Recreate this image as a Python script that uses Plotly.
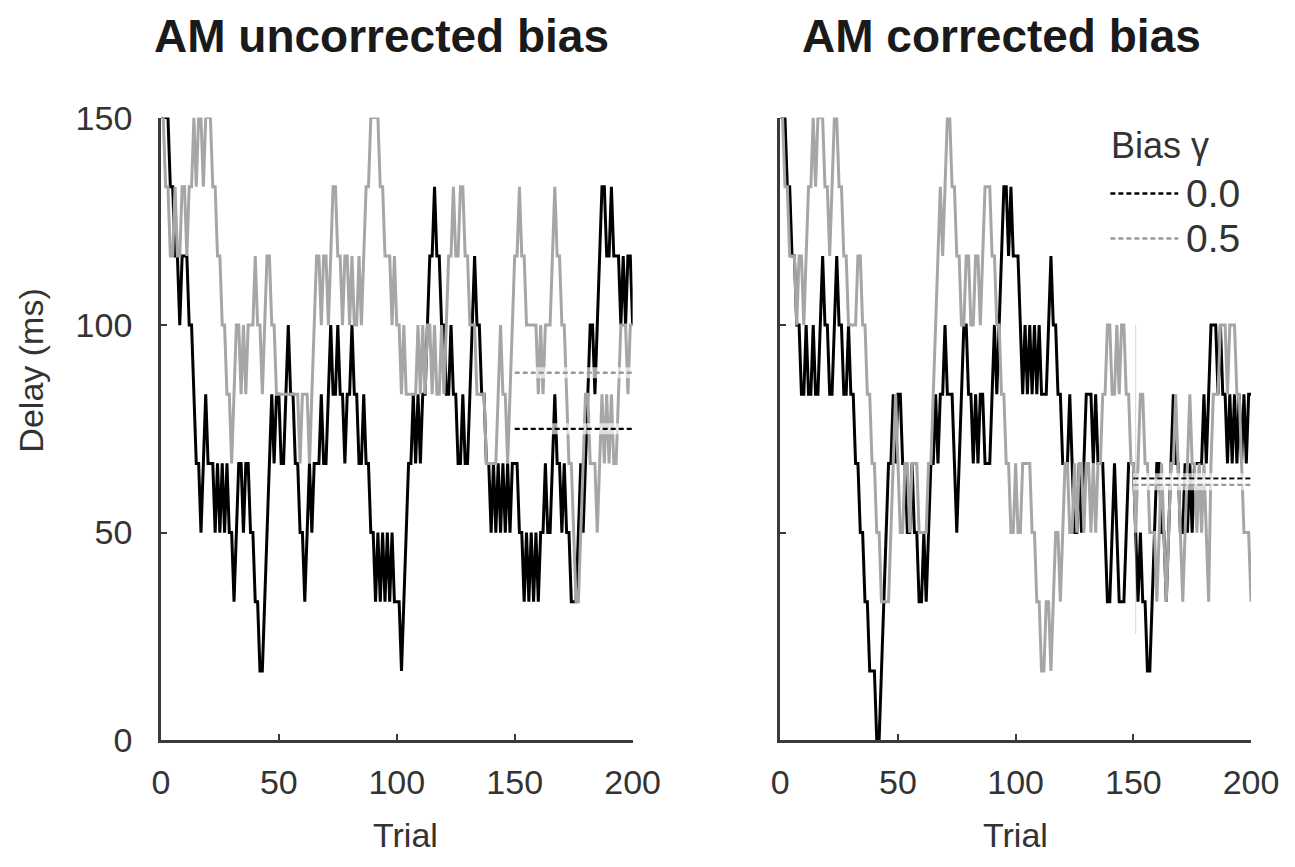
import plotly.graph_objects as go

# ---------------- data ----------------
# staircase levels (1 level = 50/3 ms), trials 0..200
STEP_MS = 50 / 3
trials = list(range(201))

# AM uncorrected bias, gamma = 0.0 (black)
unc_g00 = [9,9,9,9,8,8,7,7,6,7, 7,7,6,6,5,4,4,3,4,5, 4,4,4,3,4,3,4,3,4,3, 3,2,3,4,4,3,4,4,3,3,
           2,2,1,1,2,3,4,5,4,5, 5,4,4,5,6,5,5,4,4,3, 3,2,3,4,3,4,4,4,5,4, 4,5,6,5,5,6,5,5,4,5,
           5,6,5,5,4,4,5,4,4,3, 3,2,3,2,3,2,3,2,3,2, 2,2,1,2,3,4,4,5,4,5, 4,5,5,6,7,7,8,7,7,6,
           6,5,5,6,5,5,4,4,5,4, 4,5,6,7,6,6,5,5,4,4, 3,4,3,4,3,4,3,4,3,4, 4,4,3,3,2,3,2,3,2,3,
           2,3,3,4,3,3,4,5,4,4, 3,4,3,3,2,2,2,3,4,3, 4,5,6,6,5,6,7,8,8,7, 7,8,7,7,7,6,7,6,7,7, 6]
# AM uncorrected bias, gamma = 0.5 (grey)
unc_g05 = [9,9,8,8,7,7,8,7,7,8, 8,7,8,8,9,8,9,9,8,9, 9,9,8,8,7,7,6,6,5,5, 4,5,6,6,5,6,5,6,6,6,
           7,6,6,5,6,7,7,6,6,5, 5,5,5,5,5,5,5,5,5,4, 5,5,5,4,5,6,7,7,6,7, 7,6,7,8,8,7,7,6,7,7,
           6,7,6,6,7,6,7,8,8,9, 9,9,9,8,8,7,7,7,6,7, 6,6,5,6,5,5,5,5,5,6, 5,6,5,6,6,5,6,5,5,6,
           5,6,7,7,8,7,7,8,8,7, 7,6,6,6,5,5,5,5,4,4, 4,4,4,5,6,5,5,4,5,6, 7,7,8,7,7,6,6,6,6,6,
           5,6,5,6,6,6,7,8,7,7, 6,6,5,4,4,3,2,2,3,4, 5,5,4,4,4,3,4,5,4,5, 4,5,4,4,5,6,6,6,5,6, 6]
# AM corrected bias, gamma = 0.0 (black)
cor_g00 = [9,9,9,8,8,7,7,6,6,5, 5,6,5,5,6,5,5,6,7,6, 6,5,5,6,7,6,6,5,5,6, 5,5,4,4,3,3,2,2,1,1,
           1,0,0,1,2,3,4,4,5,4, 5,5,4,4,3,3,4,3,3,2, 2,3,2,3,4,4,5,4,5,5, 6,5,5,5,4,3,4,5,6,6,
           5,5,4,5,4,5,5,4,4,4, 5,6,5,6,7,8,8,7,8,7, 7,7,6,5,6,5,6,5,6,5, 6,5,5,5,6,7,6,6,5,5,
           4,4,4,5,4,3,3,4,3,4, 5,5,5,4,5,4,4,4,3,2, 2,3,4,3,2,2,2,3,4,4, 4,3,2,3,2,2,1,1,2,3,
           4,4,3,3,2,3,4,5,4,4, 3,3,4,3,4,3,4,4,4,4, 5,4,5,6,6,6,5,6,5,5, 4,5,4,5,4,5,4,5,4,5, 5]
# AM corrected bias, gamma = 0.5 (grey)
cor_g05 = [9,9,8,8,7,7,7,6,7,7, 6,7,8,8,9,8,9,9,9,8, 8,7,8,9,9,8,8,7,7,6, 6,6,6,7,7,6,6,5,5,4,
           4,3,3,2,2,2,2,3,4,5, 4,3,3,4,4,3,4,4,4,3, 3,3,3,4,4,5,6,7,8,7, 8,9,9,8,8,7,7,6,6,7,
           7,6,6,7,7,6,7,8,8,8, 7,7,6,6,5,5,4,4,3,3, 4,3,3,4,4,4,4,3,3,2, 2,1,1,2,2,1,2,3,3,2,
           3,4,4,3,3,4,3,4,4,3, 4,4,3,4,3,4,4,5,5,6, 6,5,5,6,5,6,6,5,5,4, 4,3,4,5,5,4,4,3,3,3,
           2,3,4,3,2,3,4,4,5,4, 3,2,3,4,5,4,4,3,4,3, 4,3,2,4,5,5,5,6,6,6, 5,6,6,6,5,5,4,3,3,3, 2]

# mean delay over the last trials (dashed lines), ms
mean_window = [150, 200]
unc_means = [75.0, 88.5]     # gamma 0.0, 0.5
cor_means = [63.0, 61.5]
# faint vertical marker in the corrected panel
marker_trial = 151
marker_span = [25.5, 100.0]

x_ticks = [0, 50, 100, 150, 200]
y_ticks = [0, 50, 100, 150]
titles = ["AM uncorrected bias", "AM corrected bias"]
legend_title = "Bias γ"
legend_labels = ["0.0", "0.5"]

# ---------------- styling / layout ----------------
BLACK = "#000000"
GREY = "#a6a6a6"
AXC = "#3a3a3a"
FONT = "Liberation Sans, Arial, sans-serif"
W, H = 1295, 867

# the photographed page maps figure pixels to picture pixels as
# pic = off + s * fig ; place things by their wanted picture position
SX, OX = 0.974, 7.7
SY, OY = 0.957, 18.3

def px(xpic):
    return ((xpic - OX) / SX) / W

def py(ypic):
    return 1 - ((ypic - OY) / SY) / H

fig = go.Figure()

def to_ms(levels):
    return [v * STEP_MS for v in levels]

def add_panel(xa, ya, g00, g05, means):
    fig.add_trace(go.Scatter(x=trials, y=to_ms(g00), mode="lines",
                             line=dict(color=BLACK, width=3.0),
                             xaxis=xa, yaxis=ya, showlegend=False, hoverinfo="skip"))
    fig.add_trace(go.Scatter(x=trials, y=to_ms(g05), mode="lines",
                             line=dict(color=GREY, width=3.0),
                             xaxis=xa, yaxis=ya, showlegend=False, hoverinfo="skip"))
    for m, col in zip(means, [BLACK, "#9a9a9a"]):
        fig.add_trace(go.Scatter(x=mean_window, y=[m, m], mode="lines",
                                 line=dict(color="rgba(255,255,255,0.65)", width=11),
                                 xaxis=xa, yaxis=ya, showlegend=False, hoverinfo="skip"))
        fig.add_trace(go.Scatter(x=mean_window, y=[m, m], mode="lines",
                                 line=dict(color=col, width=2.4, dash="5px,3px"),
                                 xaxis=xa, yaxis=ya, showlegend=False, hoverinfo="skip"))

add_panel("x", "y", unc_g00, unc_g05, unc_means)
add_panel("x2", "y2", cor_g00, cor_g05, cor_means)

fig.add_trace(go.Scatter(x=[marker_trial, marker_trial], y=marker_span, mode="lines",
                         line=dict(color="rgba(255,150,160,0.55)", width=1),
                         xaxis="x2", yaxis="y2", showlegend=False, hoverinfo="skip"))

xdom1 = [px(160), px(633)]
xdom2 = [px(781), px(1253)]
ydom = [py(740), py(117)]

common_x = dict(range=[0, 200], tickvals=x_ticks, ticks="inside", ticklen=6, tickwidth=2,
                tickcolor=AXC, showline=True, linecolor=AXC, linewidth=2.6,
                showgrid=False, zeroline=False, ticklabelstandoff=10,
                tickfont=dict(family=FONT, size=34, color="#333333"))
common_y = dict(range=[0, 150], tickvals=y_ticks, ticks="inside", ticklen=6, tickwidth=2,
                tickcolor=AXC, showline=True, linecolor=AXC, linewidth=2.6,
                showgrid=False, zeroline=False, ticklabelstandoff=19,
                tickfont=dict(family=FONT, size=34, color="#333333"))

fig.update_layout(
    width=W, height=H,
    margin=dict(l=0, r=0, t=0, b=0),
    paper_bgcolor="white", plot_bgcolor="white",
    xaxis=dict(domain=xdom1, anchor="y", **common_x),
    xaxis2=dict(domain=xdom2, anchor="y2", **common_x),
    yaxis=dict(domain=ydom, anchor="x", **common_y),
    yaxis2=dict(domain=ydom, anchor="x2", showticklabels=False, **common_y),
)

ann = []
# panel titles (kept just inside the top edge)
for t, cx in zip(titles, [381, 1003]):
    ann.append(dict(text="<b>%s</b>" % t, x=px(cx), y=1 - 17.5 / H, xref="paper", yref="paper",
                    showarrow=False, xanchor="center", yanchor="middle",
                    font=dict(family=FONT, size=46, color="#1a1a1a")))
# axis titles
ann.append(dict(text="Delay (ms)", x=px(30), y=py(370), xref="paper", yref="paper",
                showarrow=False, textangle=-90, xanchor="center", yanchor="middle",
                font=dict(family=FONT, size=34, color="#333333")))
for cx in [405, 1017]:
    ann.append(dict(text="Trial", x=px(cx), y=14 / H, xref="paper", yref="paper",
                    showarrow=False, xanchor="center", yanchor="middle",
                    font=dict(family=FONT, size=34, color="#333333")))
# legend
ann.append(dict(text=legend_title, x=px(1111), y=py(145), xref="paper", yref="paper",
                showarrow=False, xanchor="left", yanchor="middle",
                font=dict(family=FONT, size=36, color="#333333")))
shapes = []
for lab, col, yy in zip(legend_labels, [BLACK, "#9a9a9a"], [193, 238]):
    ann.append(dict(text=lab, x=px(1186), y=py(yy), xref="paper", yref="paper",
                    showarrow=False, xanchor="left", yanchor="middle",
                    font=dict(family=FONT, size=39, color="#333333")))
    shapes.append(dict(type="line", xref="paper", yref="paper",
                       x0=px(1112), x1=px(1180), y0=py(yy), y1=py(yy),
                       line=dict(color=col, width=2.5, dash="5px,3px")))

fig.update_layout(annotations=ann, shapes=shapes)
fig.write_html("out.html")
